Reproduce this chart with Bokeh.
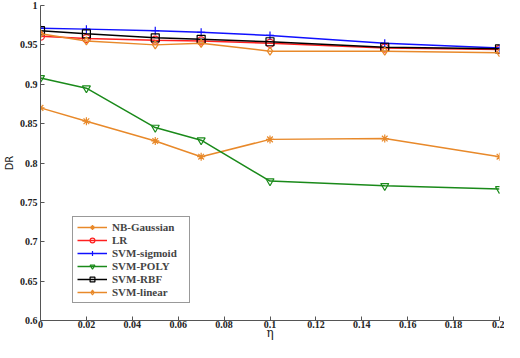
from bokeh.plotting import figure
from bokeh.embed import file_html
from bokeh.resources import INLINE
from bokeh.models import Legend, LegendItem, FixedTicker

eta = [0, 0.02, 0.05, 0.07, 0.1, 0.15, 0.2]
nb_gaussian = [0.870, 0.853, 0.828, 0.808, 0.830, 0.831, 0.808]
lr = [0.961, 0.958, 0.956, 0.955, 0.952, 0.946, 0.944]
svm_sigmoid = [0.971, 0.970, 0.968, 0.966, 0.962, 0.952, 0.946]
svm_poly = [0.908, 0.895, 0.845, 0.829, 0.777, 0.771, 0.767]
svm_rbf = [0.968, 0.964, 0.959, 0.957, 0.954, 0.947, 0.945]
svm_linear = [0.964, 0.955, 0.950, 0.952, 0.942, 0.942, 0.940]

x_ticks = [0, 0.02, 0.04, 0.06, 0.08, 0.1, 0.12, 0.14, 0.16, 0.18, 0.2]
x_labels = ["0", "0.02", "0.04", "0.06", "0.08", "0.1", "0.12", "0.14", "0.16", "0.18", "0.2"]
y_ticks = [0.6, 0.65, 0.7, 0.75, 0.8, 0.85, 0.9, 0.95, 1.0]
y_labels = ["0.6", "0.65", "0.7", "0.75", "0.8", "0.85", "0.9", "0.95", "1"]

series = [
    ("NB-Gaussian", nb_gaussian, "#E8892A", "asterisk"),
    ("LR", lr, "#FF2020", "circle"),
    ("SVM-sigmoid", svm_sigmoid, "#1010FF", "cross"),
    ("SVM-POLY", svm_poly, "#1A8A1A", "inverted_triangle"),
    ("SVM-RBF", svm_rbf, "#000000", "square"),
    ("SVM-linear", svm_linear, "#E8892A", "diamond"),
]

FONT = "Liberation Serif"

p = figure(width=504, height=342, x_range=(0, 0.2), y_range=(0.6, 1.0),
           output_backend="svg", toolbar_location=None,
           min_border_left=32, min_border_right=5, min_border_top=5, min_border_bottom=20)
p.outline_line_color = None
p.xgrid.visible = False
p.ygrid.visible = False

items = []
for name, vals, color, marker in series:
    r1 = p.line(eta, vals, line_color=color, line_width=1.5)
    r2 = p.scatter(eta, vals, marker=marker, size=8, line_color=color,
                   fill_color=None, line_width=1.2)
    items.append(LegendItem(label=name, renderers=[r1, r2]))

for ax in (p.xaxis[0], p.yaxis[0]):
    ax.major_tick_in = 4
    ax.major_tick_out = 0
    ax.minor_tick_in = 0
    ax.minor_tick_out = 0
    ax.axis_line_color = "#555555"
    ax.major_tick_line_color = "#555555"
    ax.major_label_text_font = FONT
    ax.major_label_text_font_style = "bold"
    ax.major_label_text_font_size = "10px"
    ax.major_label_text_color = "#222222"
    ax.axis_label_text_font_style = "normal"
    ax.axis_label_text_color = "#222222"

p.xaxis.ticker = FixedTicker(ticks=x_ticks)
p.xaxis.major_label_overrides = dict(zip(x_ticks, x_labels))
p.yaxis.ticker = FixedTicker(ticks=y_ticks)
p.yaxis.major_label_overrides = dict(zip(y_ticks, y_labels))
p.xaxis.major_label_standoff = 0
p.yaxis.major_label_standoff = 3
p.xaxis.axis_label = "η"
p.xaxis.axis_label_text_font = "DejaVu Serif"
p.xaxis.axis_label_text_font_size = "12px"
p.xaxis.axis_label_standoff = -5
p.yaxis.axis_label = "DR"
p.yaxis.axis_label_text_font = "DejaVu Sans"
p.yaxis.axis_label_text_font_size = "10px"
p.yaxis.axis_label_standoff = 2

legend = Legend(items=items, location=(32, 17))
legend.label_text_font = FONT
legend.label_text_font_style = "bold"
legend.label_text_font_size = "11px"
legend.label_height = 12
legend.label_width = 73
legend.glyph_height = 12
legend.glyph_width = 30
legend.spacing = 1
legend.padding = 4
legend.margin = 0
legend.border_line_color = "#333333"
legend.border_line_width = 1
legend.label_standoff = 5
p.add_layout(legend)

open("out.html", "w").write(file_html(p, INLINE))
